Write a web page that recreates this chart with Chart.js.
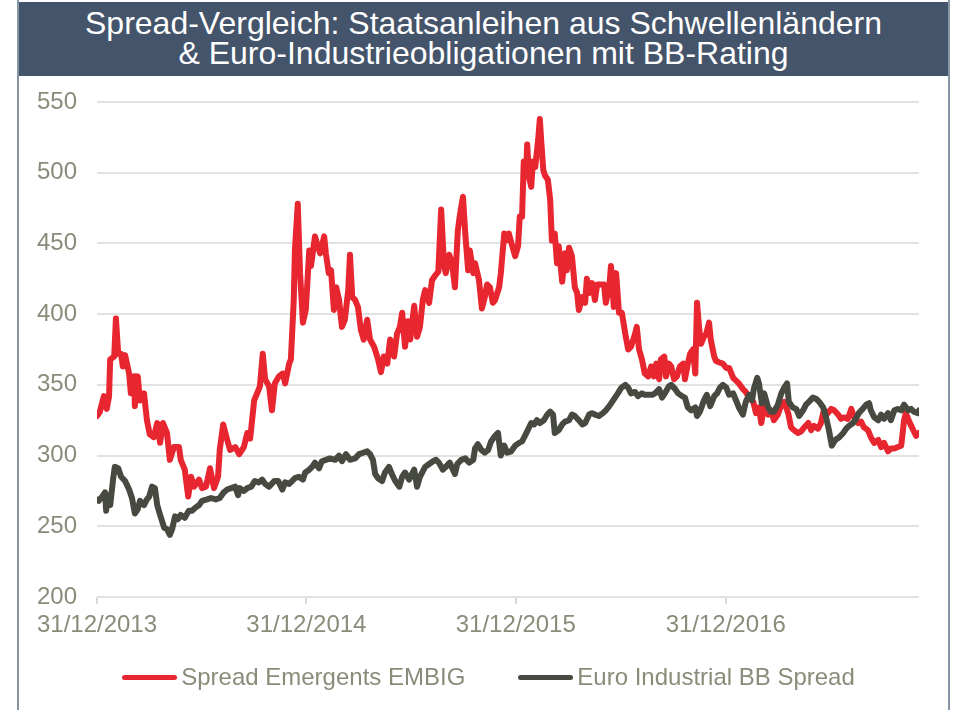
<!DOCTYPE html>
<html lang="de">
<head>
<meta charset="utf-8">
<title>Spread-Vergleich</title>
<script src="https://cdn.jsdelivr.net/npm/chart.js@4.4.1/dist/chart.umd.min.js"></script>
<style>
    html, body { margin: 0; padding: 0; background: #fff; }
    #page { position: relative; width: 953px; height: 710px; overflow: hidden; font-family: "Liberation Sans", Arial, sans-serif; }
    #frame { position: absolute; left: 17px; top: 0; width: 929px; height: 710px; border-left: 2px solid #8595a6; border-right: 2px solid #8595a6; }
    #title { position: absolute; left: 19px; top: 2px; width: 929px; height: 74px; box-sizing: border-box; padding-top: 6px;
             background: #44546a; color: #fff; font-size: 32px; line-height: 30px; text-align: center; }
    #chart { position: absolute; left: 0; top: 0; }
    #legend { position: absolute; left: 0; top: 663px; width: 977px; display: flex; justify-content: center; gap: 53px;
              font-size: 24px; line-height: 28px; color: #8b8b7a; }
    .item { display: flex; align-items: center; }
    .swatch { display: inline-block; width: 55px; height: 5px; border-radius: 3px; margin-right: 4px; }
</style>
</head>
<body>
<div id="page">
    <div id="frame"></div>
    <div id="title">Spread-Vergleich: Staatsanleihen aus Schwellenländern<br>&amp; Euro-Industrieobligationen mit BB-Rating</div>
    <canvas id="chart" width="953" height="710"></canvas>
    <div id="legend"></div>
</div>
<script>
// Serien
const seriesNames = ['Spread Emergents EMBIG', 'Euro Industrial BB Spread'];
const seriesColors = ['#e8262f', '#474a40'];

// Achsen
const axisStart = '2013-12-31';
const axisEnd = '2017-12-03';
const tickDates = ['2013-12-31', '2014-12-31', '2015-12-31', '2016-12-31'];
const yTicks = [200, 250, 300, 350, 400, 450, 500, 550];

// Spread Emergents EMBIG
const emDates = [
    '2013-12-31','2014-01-05','2014-01-12','2014-01-17','2014-01-21','2014-01-23','2014-01-30','2014-02-02','2014-02-06','2014-02-11',
    '2014-02-14','2014-02-18','2014-02-25','2014-02-28','2014-03-06','2014-03-07','2014-03-12','2014-03-16','2014-03-23','2014-03-28',
    '2014-04-02','2014-04-09','2014-04-15','2014-04-20','2014-04-25','2014-05-02','2014-05-07','2014-05-14','2014-05-23','2014-05-26',
    '2014-06-02','2014-06-08','2014-06-13','2014-06-18','2014-06-27','2014-07-02','2014-07-09','2014-07-16','2014-07-23','2014-07-30',
    '2014-08-02','2014-08-08','2014-08-15','2014-08-20','2014-08-29','2014-09-05','2014-09-13','2014-09-19','2014-09-24','2014-10-01',
    '2014-10-08','2014-10-11','2014-10-16','2014-10-20','2014-10-27','2014-11-01','2014-11-06','2014-11-13','2014-11-20','2014-11-24',
    '2014-12-01','2014-12-04','2014-12-09','2014-12-11','2014-12-16','2014-12-20','2014-12-25','2014-12-30','2015-01-05','2015-01-08',
    '2015-01-15','2015-01-20','2015-01-24','2015-01-31','2015-02-03','2015-02-08','2015-02-12','2015-02-17','2015-02-21','2015-02-26',
    '2015-03-03','2015-03-08','2015-03-14','2015-03-17','2015-03-21','2015-03-26','2015-03-31','2015-04-05','2015-04-10','2015-04-16',
    '2015-04-21','2015-04-28','2015-05-05','2015-05-10','2015-05-15','2015-05-21','2015-05-26','2015-06-02','2015-06-07','2015-06-12',
    '2015-06-16','2015-06-21','2015-06-26','2015-06-30','2015-07-07','2015-07-12','2015-07-17','2015-07-22','2015-07-26','2015-08-02',
    '2015-08-07','2015-08-12','2015-08-18','2015-08-23','2015-08-28','2015-08-31','2015-09-06','2015-09-11','2015-09-16','2015-09-21',
    '2015-09-25','2015-09-30','2015-10-04','2015-10-09','2015-10-12','2015-10-18','2015-10-21','2015-10-28','2015-11-02','2015-11-07',
    '2015-11-11','2015-11-16','2015-11-21','2015-11-25','2015-12-02','2015-12-05','2015-12-11','2015-12-14','2015-12-19','2015-12-25',
    '2015-12-30','2016-01-04','2016-01-07','2016-01-11','2016-01-14','2016-01-18','2016-01-20','2016-01-23','2016-01-27','2016-01-30',
    '2016-02-03','2016-02-08','2016-02-11','2016-02-13','2016-02-17','2016-02-20','2016-02-25','2016-02-29','2016-03-03','2016-03-08',
    '2016-03-12','2016-03-15','2016-03-21','2016-03-26','2016-03-29','2016-04-02','2016-04-07','2016-04-12','2016-04-16','2016-04-19',
    '2016-04-25','2016-04-30','2016-05-03','2016-05-07','2016-05-12','2016-05-17','2016-05-21','2016-05-26','2016-06-02','2016-06-05',
    '2016-06-11','2016-06-14','2016-06-19','2016-06-23','2016-06-28','2016-07-03','2016-07-09','2016-07-14','2016-07-19','2016-07-26',
    '2016-07-29','2016-08-02','2016-08-07','2016-08-12','2016-08-18','2016-08-23','2016-08-28','2016-09-01','2016-09-06','2016-09-09',
    '2016-09-15','2016-09-18','2016-09-23','2016-09-27','2016-10-02','2016-10-07','2016-10-12','2016-10-18','2016-10-21','2016-10-26',
    '2016-10-30','2016-11-04','2016-11-08','2016-11-11','2016-11-15','2016-11-18','2016-11-23','2016-11-27','2016-12-02','2016-12-05',
    '2016-12-11','2016-12-14','2016-12-19','2016-12-26','2017-01-01','2017-01-06','2017-01-13','2017-01-18','2017-01-23','2017-01-30',
    '2017-02-04','2017-02-10','2017-02-17','2017-02-22','2017-02-27','2017-03-03','2017-03-08','2017-03-15','2017-03-20','2017-03-25',
    '2017-04-01','2017-04-07','2017-04-12','2017-04-19','2017-04-24','2017-04-29','2017-05-06','2017-05-11','2017-05-17','2017-05-24',
    '2017-05-29','2017-06-03','2017-06-10','2017-06-15','2017-06-20','2017-06-27','2017-07-03','2017-07-08','2017-07-15','2017-07-20',
    '2017-07-25','2017-08-01','2017-08-07','2017-08-12','2017-08-19','2017-08-24','2017-08-29','2017-09-05','2017-09-10','2017-09-16',
    '2017-09-23','2017-09-28','2017-10-03','2017-10-10','2017-10-15','2017-10-21','2017-10-27','2017-11-02','2017-11-07','2017-11-10',
    '2017-11-16','2017-11-23','2017-11-28','2017-12-03'
];
const emValues = [
    328, 331, 342, 333, 342, 368, 370, 397, 372, 372,
    363, 371, 358, 344, 356, 335, 356, 339, 344, 325,
    315, 313, 323, 309, 323, 316, 297, 306, 306, 297,
    290, 271, 285, 278, 283, 277, 278, 291, 277, 285,
    304, 322, 311, 304, 306, 301, 306, 316, 312, 339,
    346, 349, 372, 354, 349, 332, 351, 356, 358, 351,
    365, 368, 410, 445, 478, 429, 394, 403, 445, 434,
    455, 448, 443, 455, 443, 429, 431, 403, 419, 410,
    391, 396, 417, 442, 412, 410, 405, 389, 382, 396,
    382, 377, 368, 359, 370, 365, 382, 370, 386, 391,
    401, 377, 395, 382, 406, 384, 391, 410, 417, 408,
    424, 427, 430, 474, 434, 429, 442, 436, 419, 459,
    471, 483, 457, 431, 445, 429, 436, 424, 404, 412,
    421, 419, 408, 410, 419, 429, 457, 452, 457, 448,
    441, 448, 469, 469, 508, 500, 520, 497, 490, 508,
    504, 523, 538, 525, 502, 498, 495, 481, 452, 457,
    436, 448, 423, 443, 431, 447, 441, 419, 415, 403,
    412, 408, 425, 415, 422, 410, 421, 421, 421, 408,
    419, 434, 405, 429, 401, 401, 386, 375, 377, 386,
    391, 375, 368, 358, 356, 363, 356, 365, 354, 368,
    370, 356, 365, 363, 354, 356, 363, 365, 354, 365,
    372, 375, 358, 408, 389, 379, 384, 386, 394, 382,
    370, 367, 366, 365, 362, 362, 355, 353, 351, 347,
    345, 341, 338, 330, 334, 323, 334, 329, 332, 325,
    329, 336, 338, 330, 320, 318, 316, 317, 320, 323,
    318, 321, 319, 323, 332, 330, 333, 332, 329, 326,
    327, 326, 333, 327, 323, 324, 320, 318, 313, 309,
    311, 306, 309, 303, 305, 305, 306, 307, 325, 330,
    324, 318, 314, 316
];

// Euro Industrial BB Spread
const bbDates = [
    '2013-12-31','2014-01-03','2014-01-09','2014-01-14','2014-01-16','2014-01-19','2014-01-23','2014-01-28','2014-01-31','2014-02-06',
    '2014-02-11','2014-02-18','2014-02-25','2014-03-02','2014-03-07','2014-03-12','2014-03-16','2014-03-23','2014-03-28','2014-04-01',
    '2014-04-06','2014-04-11','2014-04-15','2014-04-20','2014-04-27','2014-05-02','2014-05-07','2014-05-11','2014-05-16','2014-05-21',
    '2014-05-26','2014-06-02','2014-06-09','2014-06-15','2014-06-20','2014-06-27','2014-07-02','2014-07-11','2014-07-18','2014-07-26',
    '2014-08-02','2014-08-09','2014-08-15','2014-08-22','2014-08-29','2014-09-03','2014-09-06','2014-09-13','2014-09-19','2014-09-26',
    '2014-10-02','2014-10-09','2014-10-15','2014-10-20','2014-10-27','2014-11-05','2014-11-12','2014-11-19','2014-11-24','2014-12-01',
    '2014-12-06','2014-12-11','2014-12-18','2014-12-25','2014-12-29','2015-01-05','2015-01-10','2015-01-15','2015-01-22','2015-01-27',
    '2015-02-03','2015-02-10','2015-02-19','2015-02-26','2015-03-03','2015-03-10','2015-03-17','2015-03-26','2015-04-02','2015-04-09',
    '2015-04-16','2015-04-21','2015-04-26','2015-04-30','2015-05-05','2015-05-12','2015-05-17','2015-05-24','2015-05-29','2015-06-04',
    '2015-06-11','2015-06-16','2015-06-21','2015-06-28','2015-07-07','2015-07-12','2015-07-17','2015-07-26','2015-08-02','2015-08-09',
    '2015-08-14','2015-08-19','2015-08-26','2015-08-31','2015-09-07','2015-09-16','2015-09-20','2015-09-27','2015-10-04','2015-10-11',
    '2015-10-18','2015-10-21','2015-10-26','2015-11-01','2015-11-07','2015-11-13','2015-11-18','2015-11-25','2015-11-30','2015-12-05',
    '2015-12-11','2015-12-16','2015-12-23','2015-12-30','2016-01-06','2016-01-11','2016-01-16','2016-01-21','2016-01-27','2016-02-01',
    '2016-02-06','2016-02-11','2016-02-18','2016-02-24','2016-02-29','2016-03-05','2016-03-08','2016-03-15','2016-03-21','2016-03-26',
    '2016-04-02','2016-04-07','2016-04-12','2016-04-19','2016-04-25','2016-04-30','2016-05-07','2016-05-12','2016-05-17','2016-05-24',
    '2016-05-31','2016-06-05','2016-06-11','2016-06-16','2016-06-21','2016-06-26','2016-07-02','2016-07-09','2016-07-14','2016-07-19',
    '2016-07-26','2016-07-31','2016-08-07','2016-08-12','2016-08-19','2016-08-25','2016-08-30','2016-09-06','2016-09-11','2016-09-16',
    '2016-09-23','2016-09-27','2016-10-04','2016-10-09','2016-10-16','2016-10-21','2016-10-26','2016-11-01','2016-11-08','2016-11-11',
    '2016-11-16','2016-11-23','2016-11-28','2016-12-04','2016-12-11','2016-12-16','2016-12-21','2016-12-26','2017-01-01','2017-01-06',
    '2017-01-13','2017-01-18','2017-01-23','2017-01-30','2017-02-04','2017-02-10','2017-02-15','2017-02-18','2017-02-24','2017-02-27',
    '2017-03-04','2017-03-08','2017-03-15','2017-03-20','2017-03-25','2017-04-01','2017-04-07','2017-04-12','2017-04-17','2017-04-20',
    '2017-04-27','2017-05-03','2017-05-08','2017-05-15','2017-05-20','2017-05-25','2017-06-01','2017-06-07','2017-06-12','2017-06-19',
    '2017-06-24','2017-06-29','2017-07-04','2017-07-10','2017-07-17','2017-07-24','2017-07-29','2017-08-03','2017-08-10','2017-08-15',
    '2017-08-20','2017-08-27','2017-09-02','2017-09-07','2017-09-10','2017-09-16','2017-09-23','2017-09-28','2017-10-03','2017-10-10',
    '2017-10-15','2017-10-21','2017-10-27','2017-11-02','2017-11-07','2017-11-14','2017-11-19','2017-11-24','2017-12-01','2017-12-03'
];
const bbValues = [
    269, 268, 271, 274, 261, 272, 265, 283, 292, 291,
    285, 282, 276, 270, 259, 262, 268, 265, 269, 271,
    278, 277, 265, 258, 249, 248, 244, 248, 257, 255,
    258, 256, 261, 261, 263, 265, 268, 269, 270, 269,
    270, 274, 276, 277, 278, 272, 277, 275, 277, 278,
    282, 281, 283, 280, 278, 282, 282, 276, 281, 280,
    282, 284, 285, 283, 288, 290, 292, 295, 291, 296,
    297, 298, 297, 300, 296, 301, 297, 298, 301, 302,
    303, 301, 297, 287, 284, 282, 288, 292, 287, 282,
    278, 285, 288, 283, 290, 278, 285, 292, 294, 296,
    297, 295, 290, 292, 295, 287, 294, 297, 298, 295,
    297, 305, 308, 304, 302, 304, 310, 314, 316, 300,
    307, 302, 303, 307, 309, 310, 314, 318, 323, 322,
    325, 323, 325, 329, 331, 329, 316, 318, 322, 324,
    325, 329, 328, 325, 322, 323, 329, 330, 329, 328,
    330, 332, 335, 338, 341, 344, 348, 350, 348, 344,
    345, 342, 344, 343, 343, 343, 344, 347, 341, 344,
    349, 350, 347, 344, 342, 341, 334, 332, 334, 328,
    331, 339, 343, 335, 342, 344, 348, 350, 348, 343,
    344, 339, 334, 329, 338, 343, 339, 347, 355, 351,
    337, 344, 334, 331, 331, 336, 344, 348, 351, 338,
    334, 333, 328, 332, 336, 338, 341, 340, 338, 334,
    327, 318, 307, 311, 313, 316, 319, 321, 323, 326,
    330, 333, 336, 337, 332, 327, 325, 329, 326, 330,
    325, 332, 333, 332, 336, 332, 333, 331, 330, 332
];

// Hilfsfunktionen
function toTime(d) {
    return Date.parse(d + 'T00:00:00Z');
}

function toPoints(dates, values) {
    return dates.map(function(d, i) { return { x: toTime(d), y: values[i] }; });
}

function formatDate(ms) {
    const d = new Date(ms);
    const dd = String(d.getUTCDate()).padStart(2, '0');
    const mm = String(d.getUTCMonth() + 1).padStart(2, '0');
    return dd + '/' + mm + '/' + d.getUTCFullYear();
}

const labelColor = '#8b8b7a';
const labelFont = { family: '"Liberation Sans", Arial, sans-serif', size: 24 };

const chart = new Chart(document.getElementById('chart'), {
    type: 'line',
    data: {
        datasets: [{
            label: seriesNames[0],
            data: toPoints(emDates, emValues),
            borderColor: seriesColors[0],
            order: 1
        }, {
            label: seriesNames[1],
            data: toPoints(bbDates, bbValues),
            borderColor: seriesColors[1],
            order: 0
        }]
    },
    options: {
        responsive: false,
        animation: false,
        layout: { padding: { left: 0, right: 34, top: 102, bottom: 55 } },
        elements: {
            line: { borderWidth: 6, tension: 0, borderJoinStyle: 'round', borderCapStyle: 'round', fill: false },
            point: { radius: 0 }
        },
        plugins: {
            legend: { display: false },
            tooltip: { enabled: false }
        },
        scales: {
            x: {
                type: 'linear',
                min: toTime(axisStart),
                max: toTime(axisEnd),
                afterBuildTicks: function(scale) {
                    scale.ticks = tickDates.map(function(d) { return { value: toTime(d) }; });
                },
                afterFit: function(scale) { scale.height = 58; },
                ticks: {
                    callback: function(value) { return formatDate(value); },
                    color: labelColor,
                    font: labelFont,
                    padding: 7,
                    maxRotation: 0,
                    autoSkip: false
                },
                grid: { drawOnChartArea: false, drawTicks: true, tickLength: 7, color: '#d9d9d9', lineWidth: 2 },
                border: { display: false }
            },
            y: {
                min: yTicks[0],
                max: yTicks[yTicks.length - 1],
                afterBuildTicks: function(scale) {
                    scale.ticks = yTicks.map(function(v) { return { value: v }; });
                },
                afterFit: function(scale) { scale.width = 97; },
                ticks: { color: labelColor, font: labelFont, padding: 20 },
                grid: { color: '#e2e2e2', lineWidth: 2, drawTicks: false },
                border: { display: false }
            }
        }
    }
});

// Legende
const legend = document.getElementById('legend');
chart.data.datasets.forEach(function(ds) {
    const item = document.createElement('div');
    item.className = 'item';
    const swatch = document.createElement('span');
    swatch.className = 'swatch';
    swatch.style.background = ds.borderColor;
    const text = document.createElement('span');
    text.textContent = ds.label;
    item.appendChild(swatch);
    item.appendChild(text);
    legend.appendChild(item);
});
</script>
</body>
</html>
